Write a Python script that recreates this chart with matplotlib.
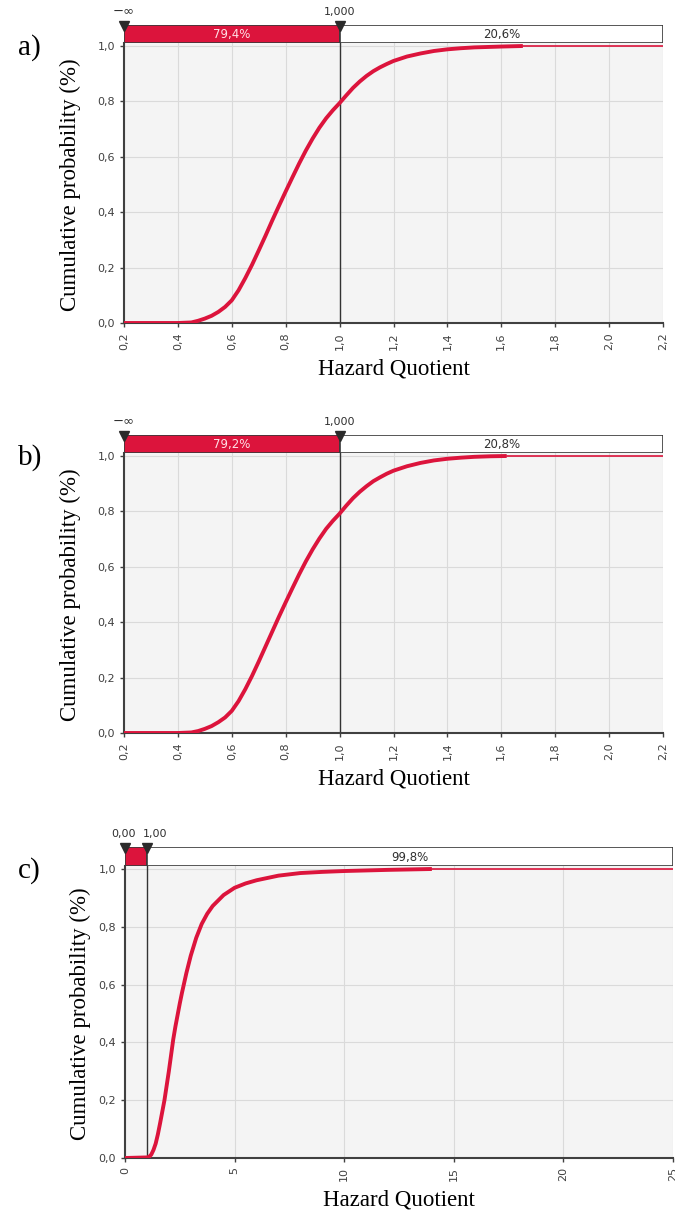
import matplotlib
matplotlib.use("Agg")
import matplotlib.pyplot as plt
from matplotlib.ticker import FuncFormatter
import numpy as np

# valores (curvas acumuladas)
hq_a = [0.20, 0.40, 0.45, 0.475, 0.50, 0.525, 0.55, 0.575, 0.60, 0.625, 0.65, 0.675,
        0.70, 0.725, 0.75, 0.775, 0.80, 0.825, 0.85, 0.875, 0.90, 0.925, 0.95, 0.975,
        1.00, 1.025, 1.05, 1.075, 1.10, 1.125, 1.15, 1.175, 1.20, 1.25, 1.30, 1.35,
        1.40, 1.45, 1.50, 1.60, 1.68]
cum_a = [0.0, 0.0, 0.002, 0.008, 0.016, 0.026, 0.040, 0.058, 0.082, 0.118, 0.162, 0.210,
         0.262, 0.315, 0.370, 0.423, 0.475, 0.526, 0.576, 0.623, 0.666, 0.705, 0.739, 0.768,
         0.794, 0.822, 0.849, 0.872, 0.892, 0.909, 0.923, 0.935, 0.946, 0.962, 0.973, 0.982,
         0.988, 0.992, 0.995, 0.998, 1.0]

hq_b = [0.20, 0.40, 0.45, 0.475, 0.50, 0.525, 0.55, 0.575, 0.60, 0.625, 0.65, 0.675,
        0.70, 0.725, 0.75, 0.775, 0.80, 0.825, 0.85, 0.875, 0.90, 0.925, 0.95, 0.975,
        1.00, 1.025, 1.05, 1.075, 1.10, 1.125, 1.15, 1.175, 1.20, 1.25, 1.30, 1.35,
        1.40, 1.45, 1.50, 1.56, 1.62]
cum_b = [0.0, 0.0, 0.002, 0.007, 0.015, 0.025, 0.039, 0.056, 0.080, 0.115, 0.158, 0.206,
         0.258, 0.312, 0.366, 0.420, 0.472, 0.523, 0.573, 0.620, 0.663, 0.702, 0.737, 0.766,
         0.792, 0.821, 0.848, 0.871, 0.891, 0.909, 0.923, 0.936, 0.947, 0.963, 0.975, 0.984,
         0.990, 0.994, 0.997, 0.999, 1.0]

hq_c = [0.0, 1.0, 1.1, 1.2, 1.3, 1.4, 1.5, 1.6, 1.7, 1.8, 1.9, 2.0, 2.1, 2.2, 2.3,
        2.4, 2.5, 2.6, 2.8, 3.0, 3.25, 3.5, 3.75, 4.0, 4.5, 5.0, 5.5, 6.0, 7.0, 8.0,
        9.0, 10.0, 12.0, 14.0]
cum_c = [0.0, 0.002, 0.004, 0.012, 0.028, 0.050, 0.082, 0.120, 0.160, 0.200, 0.250, 0.300,
         0.355, 0.410, 0.455, 0.495, 0.535, 0.572, 0.640, 0.700, 0.762, 0.810, 0.845, 0.872,
         0.910, 0.935, 0.950, 0.961, 0.977, 0.986, 0.990, 0.993, 0.997, 1.0]

# barra superior: limites y porcentajes
xlim_a = [0.2, 2.2]
xlim_c = [0.0, 25.0]
cut_a = 1.0
cut_c = [0.0, 1.0]
pct_a = ["79,4%", "20,6%"]
pct_b = ["79,2%", "20,8%"]
pct_c = ["0,2%", "99,8%"]
marks_a = ["\u2212\u221e", "1,000"]
marks_c = ["0,00", "1,00"]
xt_ab = [0.2, 0.4, 0.6, 0.8, 1.0, 1.2, 1.4, 1.6, 1.8, 2.0, 2.2]
xt_c = [0, 5, 10, 15, 20, 25]
yt = [0.0, 0.2, 0.4, 0.6, 0.8, 1.0]

ROJO = "#DC143C"
W, H = 675.0, 1214.0
YTOP = 1.01

fig = plt.figure(figsize=(6.75, 12.14), dpi=100)

def px_axes(l, t, r, b):
    return fig.add_axes([l / W, 1 - b / H, (r - l) / W, (b - t) / H])

def coma(v, nd=1):
    return ("%.*f" % (nd, v)).replace(".", ",")

def panel(l, r, y1, y0, bar_t, hq, cum, xlim, xt, nd, left_cut, right_cut,
          pcts, marks, red_text, letter, ylab_x, mark_dx):
    unit = y0 - y1
    top = y0 - YTOP * unit
    ax = px_axes(l, top, r, y0)
    ax.set_facecolor("#f4f4f4")
    ax.set_xlim(xlim)
    ax.set_ylim(0, YTOP)
    ax.set_xticks(xt)
    ax.set_yticks(yt)
    ax.grid(True, color="#dadada", linewidth=0.8)
    ax.set_axisbelow(True)
    for s in ["top", "right"]:
        ax.spines[s].set_visible(False)
    for s in ["left", "bottom"]:
        ax.spines[s].set_color("#404040")
        ax.spines[s].set_linewidth(1.5)
    ax.tick_params(colors="#404040", labelsize=8, length=3, width=1)
    ax.xaxis.set_major_formatter(FuncFormatter(lambda v, p: coma(v, nd) if nd > 0 else "%d" % v))
    ax.yaxis.set_major_formatter(FuncFormatter(lambda v, p: coma(v, 1)))
    for lab in ax.get_xticklabels():
        lab.set_rotation(90)

    # lineas verticales de corte
    for c in [left_cut, right_cut]:
        if c > xlim[0]:
            ax.axvline(c, color="#333333", linewidth=1.0, zorder=2)
    # curva
    ax.plot([hq[-1], xlim[1]], [cum[-1], cum[-1]], color=ROJO, linewidth=1.2, zorder=3)
    ax.plot(hq, cum, color=ROJO, linewidth=2.8, zorder=4, solid_capstyle="butt")

    ax.set_xlabel("Hazard Quotient", family="Liberation Serif", fontsize=16.5, labelpad=6)

    # barra de probabilidades
    bx = px_axes(l, bar_t, r, top - 0.5)
    bx.set_xlim(xlim)
    bx.set_ylim(0, 1)
    bx.axis("off")
    red_w = right_cut - xlim[0]
    bx.barh(0.5, red_w, left=xlim[0], height=1.0,
            color=ROJO, edgecolor="#3a3a3a", linewidth=1.2)
    bx.barh(0.5, xlim[1] - right_cut, left=right_cut, height=1.0,
            color="white", edgecolor="#3a3a3a", linewidth=1.2)
    if red_text:
        bx.text(xlim[0] + red_w / 2, 0.45, pcts[0], ha="center", va="center",
                fontsize=8.5, color="#ffe0e6")
    bx.text((right_cut + xlim[1]) / 2, 0.45, pcts[1], ha="center", va="center",
            fontsize=8.5, color="#303030")
    for xm, lab, dx in zip([left_cut, right_cut], marks, mark_dx):
        bx.plot([xm], [0.95], marker="v", markersize=7, color="#2b2b2b", clip_on=False, zorder=5)
        fs = 9.5 if lab.startswith("\u2212") else 8
        bx.annotate(lab, (xm, 1.45), xycoords="data", xytext=(dx, 0), textcoords="offset points",
                    ha="center", va="bottom", fontsize=fs, color="#303030", annotation_clip=False)

    fig.text(ylab_x / W, 1 - (y1 + y0) / 2 / H, "Cumulative probability (%)",
             family="Liberation Serif", fontsize=16.5, rotation=90, ha="center", va="center")
    fig.text(18 / W, 1 - (y1 + 2) / H, letter, family="Liberation Serif", fontsize=21,
             ha="left", va="center")
    return ax

panel(124, 663, 46, 323, 25, hq_a, cum_a, xlim_a, xt_ab, 1, xlim_a[0], cut_a,
      pct_a, marks_a, True, "a)", 70, [0, 0])
panel(124, 663, 456, 733, 435, hq_b, cum_b, xlim_a, xt_ab, 1, xlim_a[0], cut_a,
      pct_b, marks_a, True, "b)", 70, [0, 0])
panel(125, 673, 869, 1158, 847, hq_c, cum_c, xlim_c, xt_c, 0, cut_c[0], cut_c[1],
      pct_c, marks_c, False, "c)", 80, [-1, 6])

fig.savefig("out.png", dpi=100)
